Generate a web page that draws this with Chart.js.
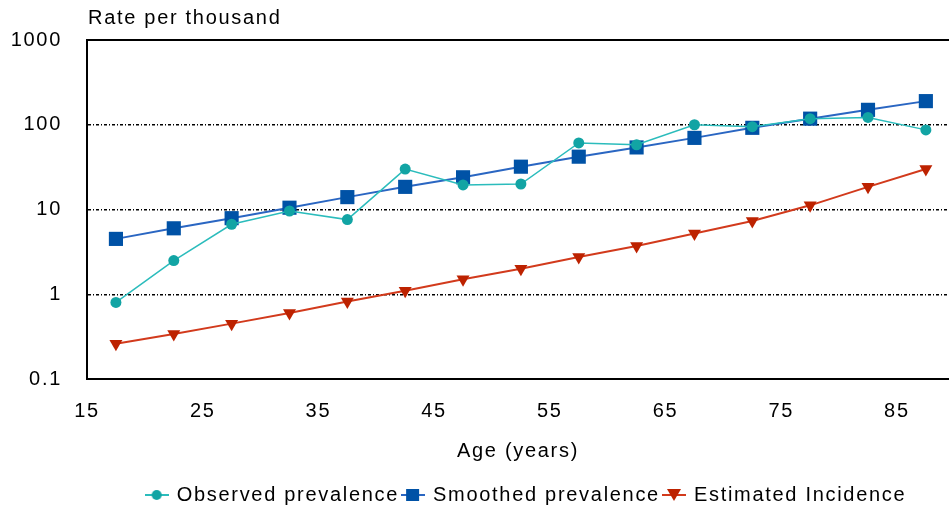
<!DOCTYPE html>
<html>
<head>
<meta charset="utf-8">
<script src="https://cdn.jsdelivr.net/npm/chart.js@4/dist/chart.umd.min.js"></script>
<style>
  html, body { margin: 0; padding: 0; background: #fff; }
  #wrap { width: 949px; height: 508px; }
</style>
</head>
<body>
<div id="wrap"><canvas id="rateChart"></canvas></div>
<script>
// age group midpoints (years)
var ages = [17.5, 22.5, 27.5, 32.5, 37.5, 42.5, 47.5, 52.5, 57.5, 62.5, 67.5, 72.5, 77.5, 82.5, 87.5];
// rates per thousand
var observedPrev = [0.8, 2.5, 6.7, 9.6, 7.6, 30, 19.5, 20, 61, 58, 100, 95, 118, 122, 87];
var smoothedPrev = [4.5, 6, 7.9, 10.5, 14, 18.5, 24, 32, 42, 54, 70, 92, 118, 150, 190];
var estIncidence = [0.26, 0.34, 0.45, 0.6, 0.82, 1.1, 1.5, 2.0, 2.75, 3.7, 5.2, 7.3, 11.2, 18.5, 30];

var xTicks = [15, 25, 35, 45, 55, 65, 75, 85];
var yTicks = [0.1, 1, 10, 100, 1000];
var gridValues = [1, 10, 100];

var FONT = '"Liberation Sans", Arial, sans-serif';
var SPACING = '1.7px';

function points(vals) {
    return ages.map(function(a, i) { return { x: a, y: vals[i] }; });
}

// small legend icon: line through marker
function legendIcon(style, fill, line) {
    var c = document.createElement('canvas');
    c.width = 24; c.height = 16;
    var g = c.getContext('2d');
    g.strokeStyle = line; g.lineWidth = 2;
    g.beginPath(); g.moveTo(0, 8); g.lineTo(24, 8); g.stroke();
    g.fillStyle = fill;
    g.beginPath();
    if (style === 'circle') {
        g.arc(12, 8, 5, 0, Math.PI * 2);
    } else if (style === 'rect') {
        g.rect(5, 2, 13, 12);
    } else {
        g.moveTo(5, 2); g.lineTo(19, 2); g.lineTo(12, 14); g.closePath();
    }
    g.fill();
    return c;
}

var framePlugin = {
    id: 'frame',
    beforeLayout: function(chart) { chart.ctx.letterSpacing = SPACING; },
    afterLayout: function(chart) {
        // legend sits right of centre and a little lower in the original
        var lg = chart.legend;
        if (lg) { lg.left += 52; lg.right += 52; lg.top += 7; lg.bottom += 7; }
    },
    beforeDraw: function(chart) { chart.ctx.letterSpacing = SPACING; },
    afterDraw: function(chart) {
        var a = chart.chartArea, ctx = chart.ctx;
        ctx.save();
        ctx.strokeStyle = '#000';
        ctx.lineWidth = 2;
        ctx.beginPath();
        ctx.moveTo(a.left, a.top);
        ctx.lineTo(a.right, a.top);
        ctx.stroke();
        ctx.fillStyle = '#000';
        ctx.font = '20px ' + FONT;
        ctx.textBaseline = 'middle';
        ctx.textAlign = 'left';
        ctx.fillText('Rate per thousand', a.left + 1, 18);
        ctx.restore();
    }
};

var ctx = document.getElementById('rateChart').getContext('2d');
var chart = new Chart(ctx, {
    type: 'line',
    data: {
        datasets: [{
            label: 'Observed prevalence',
            data: points(observedPrev),
            borderColor: '#2bbcbc',
            backgroundColor: '#12a4a4',
            borderWidth: 1.5,
            pointStyle: 'circle',
            pointRadius: 5.5,
            pointBorderWidth: 0,
            legendIcon: legendIcon('circle', '#12a4a4', '#2bbcbc')
        }, {
            label: 'Smoothed prevalence',
            data: points(smoothedPrev),
            borderColor: '#2a66c2',
            backgroundColor: '#0052a6',
            borderWidth: 2,
            pointStyle: 'rect',
            pointRadius: 10,
            pointBorderWidth: 0,
            legendIcon: legendIcon('rect', '#0052a6', '#2a66c2')
        }, {
            label: 'Estimated Incidence',
            data: points(estIncidence),
            borderColor: '#d23a1c',
            backgroundColor: '#bd2200',
            borderWidth: 2,
            pointStyle: 'triangle',
            pointRotation: 180,
            pointRadius: 7.5,
            pointBorderWidth: 0,
            legendIcon: legendIcon('triangle', '#bd2200', '#d23a1c')
        }]
    },
    options: {
        responsive: true,
        maintainAspectRatio: false,
        animation: false,
        layout: { autoPadding: false, padding: { top: 40, right: 0, left: 0, bottom: 0 } },
        scales: {
            x: {
                type: 'linear',
                min: 15,
                max: 89.5,
                afterBuildTicks: function(s) { s.ticks = xTicks.map(function(v) { return { value: v }; }); },
                afterFit: function(s) { s.height = 95; },
                grid: { display: false },
                border: { display: true, color: '#000', width: 2 },
                ticks: { color: '#000', padding: 12, font: { family: FONT, size: 20 }, maxRotation: 0 },
                title: { display: true, text: 'Age (years)', color: '#000', font: { family: FONT, size: 20 }, padding: { top: 0, bottom: 11 } }
            },
            y: {
                type: 'logarithmic',
                min: 0.1,
                max: 1000,
                afterBuildTicks: function(s) { s.ticks = yTicks.map(function(v) { return { value: v }; }); },
                afterFit: function(s) { s.width = 87; },
                grid: {
                    drawTicks: false,
                    color: function(c) { return c.tick && gridValues.indexOf(c.tick.value) >= 0 ? '#000' : 'rgba(0,0,0,0)'; },
                    lineWidth: 1.5
                },
                border: { display: true, color: '#000', width: 2, dash: [3, 2, 1, 2] },
                ticks: {
                    color: '#000',
                    padding: 25,
                    font: { family: FONT, size: 20 },
                    callback: function(v) { return String(v); }
                }
            }
        },
        plugins: {
            legend: {
                position: 'bottom',
                labels: {
                    color: '#000',
                    font: { family: FONT, size: 20 },
                    usePointStyle: true,
                    boxWidth: 24,
                    padding: 4,
                    generateLabels: function(ch) {
                        return ch.data.datasets.map(function(ds, i) {
                            return { text: ds.label, pointStyle: ds.legendIcon, fillStyle: ds.backgroundColor, strokeStyle: ds.borderColor, lineWidth: 0, datasetIndex: i, fontColor: '#000' };
                        });
                    }
                }
            },
            tooltip: { enabled: false }
        }
    },
    plugins: [framePlugin]
});
</script>
</body>
</html>
